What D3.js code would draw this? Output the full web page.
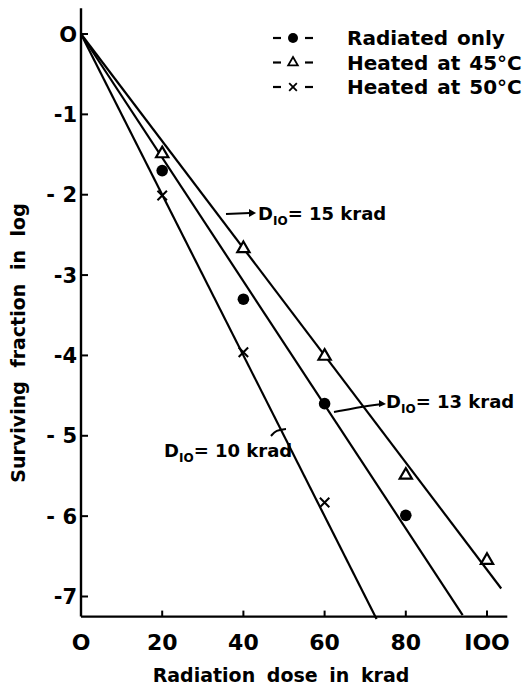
<!DOCTYPE html>
<html><head><meta charset="utf-8">
<script src="https://cdn.jsdelivr.net/npm/d3@7"></script>
<style>
body{margin:0;background:#fff;}
text{font-family:"DejaVu Sans","Liberation Sans",sans-serif;font-weight:bold;fill:#000;}
</style></head>
<body><svg id="c" width="525" height="686"></svg>
<script>
// Data
const radiatedOnly = [[20,-1.70],[40,-3.30],[60,-4.60],[80,-5.99]];
const heated45 = [[20,-1.49],[40,-2.67],[60,-4.01],[80,-5.49],[100,-6.55]];
const heated50 = [[20,-2.01],[40,-3.96],[60,-5.83]];
// Fitted lines: D10 values (krad) and dose where each drawn line ends
const fitD10 = [15, 13, 10];
const fitEnd = [103.5, 94, 72.8];
const yTicks = [0,-1,-2,-3,-4,-5,-6,-7];
const yTickLabels = ["O","-1","- 2","-3","-4","- 5","- 6","-7"];
const xTicks = [0,20,40,60,80,100];
const xTickLabels = ["O","20","40","60","80","IOO"];
const legendLabels = ["Radiated only","Heated at 45°C","Heated at 50°C"];

const svg = d3.select("#c");
const x = d3.scaleLinear().domain([0,100]).range([81,487]);
const y = d3.scaleLinear().domain([0,-7]).range([34,596.5]);
const yMin = -7.25, yMax = 0.32, xMax = 105;

// Axes lines
svg.append("line").attr("x1",x(0)).attr("x2",x(0)).attr("y1",y(yMax)).attr("y2",y(yMin))
  .attr("stroke","#000").attr("stroke-width",2.4);
svg.append("line").attr("x1",x(0)).attr("x2",x(xMax)).attr("y1",y(yMin)).attr("y2",y(yMin))
  .attr("stroke","#000").attr("stroke-width",2.4);

// y ticks
yTicks.forEach((t,i)=>{
  svg.append("line").attr("x1",x(0)).attr("x2",x(0)+7).attr("y1",y(t)).attr("y2",y(t))
    .attr("stroke","#000").attr("stroke-width",2);
  svg.append("text").attr("x",x(0)-4).attr("y",y(t)).attr("dy","0.36em")
    .attr("text-anchor","end").attr("font-size",21).text(yTickLabels[i]);
});
// x ticks
xTicks.forEach((t,i)=>{
  if(t>0) svg.append("line").attr("x1",x(t)).attr("x2",x(t)).attr("y1",y(yMin)).attr("y2",y(yMin)-6)
    .attr("stroke","#000").attr("stroke-width",2);
  svg.append("text").attr("x",x(t)).attr("y",642).attr("dy","0.36em")
    .attr("text-anchor","middle").attr("font-size",22).text(xTickLabels[i]);
});
// axis titles
svg.append("text").attr("x",281).attr("y",675).attr("dy","0.36em").attr("text-anchor","middle")
  .attr("font-size",19).attr("word-spacing",5).text("Radiation dose in krad");
svg.append("text").attr("transform","translate(18,343) rotate(-90)").attr("dy","0.36em")
  .attr("text-anchor","middle").attr("font-size",19).attr("word-spacing",7).text("Surviving fraction in log");

// fitted lines
const line = d3.line().x(d=>x(d[0])).y(d=>y(d[1]));
fitD10.forEach((d10,i)=>{
  const e = fitEnd[i];
  svg.append("path").attr("d",line([[0,0],[e,-e/d10]])).attr("fill","none")
    .attr("stroke","#000").attr("stroke-width",2.2);
});

// markers
svg.selectAll(".c").data(radiatedOnly).join("circle")
  .attr("cx",d=>x(d[0])).attr("cy",d=>y(d[1])).attr("r",5.8).attr("fill","#000");
const tri = d3.symbol().type(d3.symbolTriangle).size(65);
svg.selectAll(".t").data(heated45).join("path")
  .attr("transform",d=>`translate(${x(d[0])},${y(d[1])})`).attr("d",tri())
  .attr("fill","#fff").attr("stroke","#000").attr("stroke-width",2.2);
const cross = d3.symbol().type(d3.symbolX).size(60);
svg.selectAll(".x").data(heated50).join("path")
  .attr("transform",d=>`translate(${x(d[0])},${y(d[1])})`).attr("d",cross())
  .attr("fill","none").attr("stroke","#000").attr("stroke-width",2);

// legend
const lg = svg.append("g");
const sym = [
  g=>g.append("circle").attr("r",5).attr("fill","#000"),
  g=>g.append("path").attr("d",d3.symbol().type(d3.symbolTriangle).size(40)()).attr("fill","#fff").attr("stroke","#000").attr("stroke-width",1.8),
  g=>g.append("path").attr("d",d3.symbol().type(d3.symbolX).size(40)()).attr("fill","none").attr("stroke","#000").attr("stroke-width",1.8)
];
legendLabels.forEach((lab,i)=>{
  const yy = 38 + i*24.5;
  const g = lg.append("g").attr("transform",`translate(293,${yy})`);
  g.append("line").attr("x1",-20).attr("x2",-12).attr("stroke","#000").attr("stroke-width",2.2);
  g.append("line").attr("x1",12).attr("x2",20).attr("stroke","#000").attr("stroke-width",2.2);
  sym[i](g);
  lg.append("text").attr("x",347).attr("y",yy).attr("dy","0.36em").attr("font-size",20)
    .attr("word-spacing",2).text(lab);
});

// D10 annotations
function d10Label(tx,ty,val){
  const t = svg.append("text").attr("x",tx).attr("y",ty).attr("font-size",18);
  t.append("tspan").text("D");
  t.append("tspan").attr("font-size",12).attr("dy",5).text("IO");
  t.append("tspan").attr("dy",-5).text("= "+val+" krad");
}
const arrowLine = (pts)=>svg.append("path").attr("d",d3.line().curve(d3.curveBasis)(pts)).attr("fill","none")
  .attr("stroke","#000").attr("stroke-width",2);
// 15 krad
arrowLine([[226,214],[250,213]]);
svg.append("path").attr("d","M249,209 L256,213 L249,217 Z").attr("fill","#000");
d10Label(258,220,"15");
// 13 krad
arrowLine([[334,412],[372,405],[382,404]]);
svg.append("path").attr("d","M379,400 L386,404 L379,407 Z").attr("fill","#000");
d10Label(386,408,"13");
// 10 krad
arrowLine([[271,436],[276,430],[286,429]]);
d10Label(164,457,"10");
</script></body></html>
